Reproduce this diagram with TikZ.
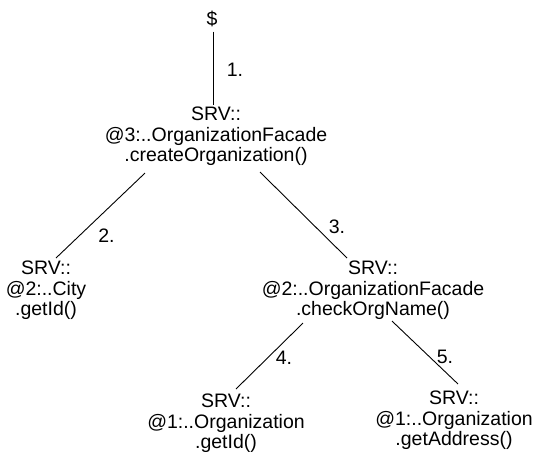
\documentclass[tikz,border=0pt]{standalone}
\usepackage{fontspec}
\setmainfont{Liberation Sans}
\begin{document}
\begin{tikzpicture}[x=1pt,y=-1pt,
  call/.style={align=center,inner sep=0pt,anchor=north,font=\fontsize{19.5}{20.5}\selectfont,text=black},
  lbl/.style={inner sep=0pt,anchor=base,font=\fontsize{19.5}{20.5}\selectfont,text=black},
  link/.style={line width=0.9pt,black}]
\useasboundingbox (0,0) rectangle (536,452);
\node[lbl] (top) at (212,26) {\$};
\node[call] (root) at (216,107) {SRV::\\@3:..OrganizationFacade\\.createOrganization()};
\node[call] (city) at (46,261) {SRV::\\@2:..City\\.getId()};
\node[call] (check) at (373,261) {SRV::\\@2:..OrganizationFacade\\.checkOrgName()};
\node[call] (getid) at (226,394) {SRV::\\@1:..Organization\\.getId()};
\node[call] (getaddr) at (454,391) {SRV::\\@1:..Organization\\.getAddress()};
\node[lbl] (l1) at (235,77) {1.};
\node[lbl] (l2) at (106.5,242) {2.};
\node[lbl] (l3) at (337,233) {3.};
\node[lbl] (l4) at (284,364) {4.};
\node[lbl] (l5) at (445,363) {5.};
\draw[link] ([shift={(1,4)}]top.south) -- ([shift={(-3,-2)}]root.north);
\draw[link] ([shift={(-71,7)}]root.south) -- ([shift={(10,-3)}]city.north);
\draw[link] ([shift={(44,6)}]root.south) -- ([shift={(-26,-3)}]check.north);
\draw[link] ([shift={(-70,3)}]check.south) -- ([shift={(10,-5)}]getid.north);
\draw[link] ([shift={(19,1)}]check.south) -- ([shift={(4,-7)}]getaddr.north);
\end{tikzpicture}
\end{document}
